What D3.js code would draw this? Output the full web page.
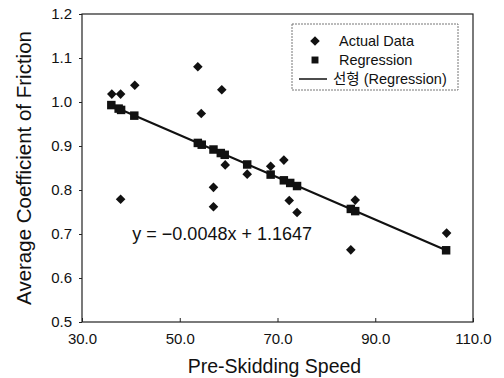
<!DOCTYPE html>
<html lang="en">
<head>
<meta charset="UTF-8">
<title>Coefficient of Friction vs Pre-Skidding Speed</title>
<style>
body { margin: 0; background: #fff; }
svg { display: block; }
text { font-family: 'Liberation Sans', Arial, 'Noto Sans CJK KR', sans-serif; fill: #111; }
.axis path, .axis line { stroke: #222; }
</style>
</head>
<body>
<svg width="504" height="378"></svg>
<script src="https://d3js.org/d3.v7.min.js"></script>
<script>
// measured points (speed, friction)
var actualSpeed = [36.1, 37.9, 37.9, 40.8, 53.7, 54.4, 56.9, 56.9, 58.6, 59.3, 63.8, 68.6, 71.3, 72.4, 74.0, 85.0, 85.9, 104.6];
var actualFriction = [1.018, 1.018, 0.779, 1.038, 1.080, 0.974, 0.806, 0.762, 1.028, 0.857, 0.836, 0.854, 0.868, 0.776, 0.749, 0.664, 0.777, 0.702];

// fitted points
var regSpeed = [36.0, 37.5, 38.0, 40.7, 53.7, 54.5, 56.9, 58.4, 59.2, 63.8, 68.6, 71.3, 72.6, 74.0, 85.0, 85.9, 104.5];
var regFriction = [0.993, 0.985, 0.982, 0.969, 0.907, 0.903, 0.892, 0.884, 0.880, 0.858, 0.835, 0.822, 0.816, 0.809, 0.757, 0.752, 0.663];

// trend line ends
var trendSpeed = [36.0, 104.5];
var trendFriction = [0.992, 0.663];

var xTicks = [30, 50, 70, 90, 110];
var yTicks = [0.5, 0.6, 0.7, 0.8, 0.9, 1.0, 1.1, 1.2];

var svg = d3.select("svg"),
    margin = {top: 14, right: 31, bottom: 56, left: 82};
var width = +svg.attr("width") - margin.left - margin.right;
var height = +svg.attr("height") - margin.top - margin.bottom;

var x = d3.scaleLinear().domain([30, 110]).range([0, width]);
var y = d3.scaleLinear().domain([0.5, 1.2]).range([height, 0]);

var g = svg.append("g").attr("transform", "translate(" + margin.left + "," + margin.top + ")");

// frame
g.append("rect")
    .attr("width", width).attr("height", height)
    .attr("fill", "none").attr("stroke", "#222").attr("stroke-width", 1.2);

var xAxis = d3.axisBottom(x).tickValues(xTicks).tickFormat(d3.format(".1f"))
    .tickSizeInner(-4).tickSizeOuter(0).tickPadding(11);
g.append("g").attr("class", "axis")
    .attr("transform", "translate(0," + height + ")")
    .call(xAxis)
    .call(function(a) { a.select(".domain").remove(); })
    .selectAll("text").style("font-size", "15px");

var yAxis = d3.axisLeft(y).tickValues(yTicks).tickFormat(d3.format(".1f"))
    .tickSizeInner(3).tickSizeOuter(0).tickPadding(7);
g.append("g").attr("class", "axis")
    .call(yAxis)
    .call(function(a) { a.select(".domain").remove(); })
    .selectAll("text").style("font-size", "15px");

// trend line
var line = d3.line().x(function(d) { return x(d[0]); }).y(function(d) { return y(d[1]); });
g.append("path")
    .datum(d3.zip(trendSpeed, trendFriction))
    .attr("d", line)
    .attr("fill", "none").attr("stroke", "#111").attr("stroke-width", 2);

var diamond = d3.symbol().type(d3.symbolSquare).size(46);
var square = d3.symbol().type(d3.symbolSquare).size(72);

g.selectAll(".reg")
    .data(d3.zip(regSpeed, regFriction))
    .enter().append("path")
    .attr("class", "reg")
    .attr("d", square)
    .attr("fill", "#111")
    .attr("transform", function(d) { return "translate(" + x(d[0]) + "," + y(d[1]) + ")"; });

g.selectAll(".actual")
    .data(d3.zip(actualSpeed, actualFriction))
    .enter().append("path")
    .attr("class", "actual")
    .attr("d", diamond)
    .attr("fill", "#111")
    .attr("transform", function(d) { return "translate(" + x(d[0]) + "," + y(d[1]) + ") rotate(45)"; });

// equation
g.append("text")
    .attr("x", x(40.3)).attr("y", y(0.7) + 6)
    .style("font-size", "18px")
    .text("y = \u22120.0048x + 1.1647");

// legend
var legend = svg.append("g").attr("transform", "translate(292,24)");
legend.append("rect")
    .attr("width", 166).attr("height", 66)
    .attr("fill", "#fff").attr("stroke", "#777").attr("stroke-width", 1)
    .attr("stroke-dasharray", "2,1");

legend.append("path").attr("d", diamond).attr("fill", "#111")
    .attr("transform", "translate(23,17) rotate(45)");
legend.append("text").attr("x", 47).attr("y", 22).style("font-size", "14.5px").text("Actual Data");

legend.append("path").attr("d", d3.symbol().type(d3.symbolSquare).size(48)).attr("fill", "#111")
    .attr("transform", "translate(23,36)");
legend.append("text").attr("x", 47).attr("y", 41).style("font-size", "14.5px").text("Regression");

legend.append("line").attr("x1", 7).attr("x2", 35).attr("y1", 55).attr("y2", 55)
    .attr("stroke", "#111").attr("stroke-width", 1.5);
legend.append("text").attr("x", 41).attr("y", 60).style("font-size", "14.5px").text("선형 (Regression)");

// axis titles
svg.append("text")
    .attr("x", margin.left + width / 2 - 3).attr("y", 373)
    .attr("text-anchor", "middle")
    .style("font-size", "19.5px")
    .text("Pre-Skidding Speed");

svg.append("text")
    .attr("transform", "translate(31," + (margin.top + height / 2) + ") rotate(-90)")
    .attr("text-anchor", "middle")
    .style("font-size", "20.5px")
    .text("Average Coefficient of Friction");
</script>
</body>
</html>
